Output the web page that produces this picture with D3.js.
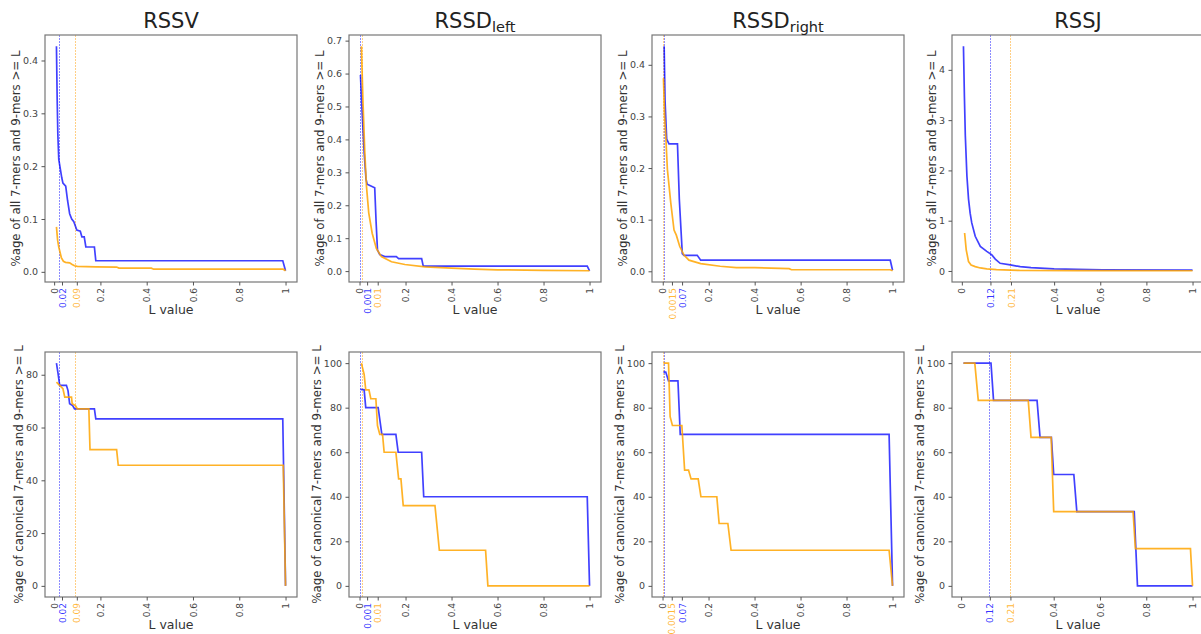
<!DOCTYPE html>
<html>
<head>
<meta charset="utf-8">
<script src="https://cdn.jsdelivr.net/npm/d3@7"></script>
<style>
  body { margin: 0; background: #fff; }
  text { font-family: "DejaVu Sans", sans-serif; }
</style>
</head>
<body>
<svg id="chart" width="1201" height="634"></svg>
<script>
// ---- data: [L value, %age] ----
// top row: %age of all 7-mers and 9-mers >= L
const rssvAllBlue = [[0.01,0.427],[0.013,0.33],[0.016,0.26],[0.02,0.213],[0.027,0.194],[0.033,0.178],[0.038,0.168],[0.05,0.162],[0.058,0.135],[0.067,0.11],[0.076,0.1],[0.085,0.095],[0.098,0.079],[0.113,0.077],[0.12,0.066],[0.13,0.066],[0.137,0.047],[0.174,0.047],[0.18,0.021],[0.988,0.021],[1,0.002]];
const rssvAllOrange = [[0.01,0.085],[0.015,0.06],[0.02,0.047],[0.031,0.027],[0.04,0.02],[0.049,0.018],[0.067,0.017],[0.078,0.014],[0.088,0.0115],[0.1,0.0102],[0.18,0.0095],[0.27,0.009],[0.28,0.007],[0.42,0.007],[0.43,0.005],[0.99,0.005],[1,0.002]];
const rssdLeftAllBlue = [[0.004,0.596],[0.01,0.5],[0.02,0.36],[0.028,0.28],[0.033,0.264],[0.045,0.26],[0.066,0.253],[0.072,0.15],[0.078,0.064],[0.088,0.05],[0.11,0.044],[0.16,0.044],[0.17,0.038],[0.27,0.038],[0.277,0.015],[0.99,0.015],[1,0.001]];
const rssdLeftAllOrange = [[0.008,0.683],[0.015,0.514],[0.023,0.36],[0.03,0.259],[0.04,0.177],[0.055,0.115],[0.073,0.069],[0.095,0.044],[0.139,0.0285],[0.197,0.02],[0.285,0.013],[0.4,0.009],[0.5,0.006],[0.6,0.004],[0.8,0.002],[1,0.001]];
const rssdRightAllBlue = [[0.006,0.436],[0.01,0.33],[0.017,0.256],[0.027,0.247],[0.064,0.247],[0.072,0.14],[0.085,0.034],[0.092,0.031],[0.15,0.031],[0.165,0.0215],[0.99,0.0215],[1,0.002]];
const rssdRightAllOrange = [[0.003,0.374],[0.008,0.3],[0.013,0.263],[0.02,0.198],[0.035,0.132],[0.049,0.08],[0.059,0.07],[0.074,0.048],[0.093,0.031],[0.114,0.0215],[0.165,0.015],[0.25,0.0098],[0.32,0.007],[0.4,0.007],[0.55,0.005],[0.56,0.003],[0.99,0.003],[1,0.001]];
const rssjAllBlue = [[0.007,4.47],[0.011,3.5],[0.015,2.7],[0.022,1.89],[0.029,1.43],[0.036,1.15],[0.043,0.956],[0.058,0.69],[0.08,0.49],[0.108,0.39],[0.13,0.32],[0.145,0.235],[0.166,0.153],[0.21,0.12],[0.253,0.086],[0.3,0.065],[0.4,0.04],[0.5,0.03],[0.61,0.02],[1,0.018]];
const rssjAllOrange = [[0.012,0.755],[0.019,0.42],[0.029,0.187],[0.04,0.12],[0.058,0.086],[0.08,0.06],[0.108,0.04],[0.15,0.025],[0.25,0.01],[0.5,0.006],[1,0.004]];

// bottom row: %age of canonical 7-mers and 9-mers >= L
const rssvCanBlue = [[0.01,84.4],[0.017,80.4],[0.024,76],[0.053,76],[0.06,74],[0.067,69],[0.08,68.3],[0.088,67.1],[0.174,67.1],[0.18,63.3],[0.988,63.3],[1,0]];
const rssvCanOrange = [[0.01,77.2],[0.024,76],[0.038,74.7],[0.046,71.5],[0.075,71.5],[0.078,69],[0.092,68.3],[0.1,67.1],[0.15,67.1],[0.155,51.6],[0.27,51.6],[0.277,45.7],[0.99,45.7],[1,0]];
const rssdLeftCanBlue = [[0.004,88.2],[0.02,88],[0.027,80],[0.081,80],[0.085,77],[0.097,68],[0.158,68],[0.168,60],[0.27,60],[0.279,40],[0.99,40],[1,0]];
const rssdLeftCanOrange = [[0.008,100],[0.02,95],[0.027,88],[0.041,88],[0.049,84],[0.071,84],[0.078,72],[0.088,68],[0.1,68],[0.107,60],[0.158,60],[0.17,48],[0.18,48],[0.19,36],[0.328,36],[0.347,16],[0.548,16],[0.558,0],[1,0]];
const rssdRightCanBlue = [[0.004,96],[0.014,96],[0.026,92],[0.067,92],[0.077,68],[0.985,68],[1,0]];
const rssdRightCanOrange = [[0.004,100],[0.026,100],[0.033,76],[0.043,72],[0.084,72],[0.096,52],[0.113,52],[0.124,48],[0.155,48],[0.167,40],[0.236,40],[0.246,28],[0.284,28],[0.298,16],[0.985,16],[1,0]];
const rssjCanBlue = [[0.01,100],[0.129,100],[0.14,83.3],[0.328,83.3],[0.341,66.7],[0.39,66.7],[0.4,50],[0.487,50],[0.5,33.3],[0.748,33.3],[0.762,0],[1,0]];
const rssjCanOrange = [[0.01,100],[0.059,100],[0.074,83.3],[0.29,83.3],[0.302,66.7],[0.389,66.7],[0.4,33.3],[0.743,33.3],[0.753,16.7],[0.991,16.7],[1,0]];

// cut-off lines [blue, orange]
const rssvCutoffs = [0.02, 0.09];
const rssdLeftCutoffs = [0.001, 0.01];
const rssdRightCutoffs = [0.007, 0.0015];
const rssjCutoffs = [0.12, 0.21];

// x ticks (positions + labels, as set on the axes)
const rssvTicks = [0, 0.034, 0.098, 0.2, 0.4, 0.6, 0.8, 1];
const rssvTickLabels = ["0", "0.02", "0.09", "0.2", "0.4", "0.6", "0.8", "1"];
const rssdLeftTicks = [0, 0.033, 0.079, 0.2, 0.4, 0.6, 0.8, 1];
const rssdLeftTickLabels = ["0", "0.001", "0.01", "0.2", "0.4", "0.6", "0.8", "1"];
const rssdRightTicks = [0, 0.04, 0.084, 0.2, 0.4, 0.6, 0.8, 1];
const rssdRightTickLabels = ["0", "0.0015", "0.07", "0.2", "0.4", "0.6", "0.8", "1"];
const rssjTicks = [0, 0.124, 0.213, 0.4, 0.6, 0.8, 1];
const rssjTickLabels = ["0", "0.12", "0.21", "0.4", "0.6", "0.8", "1"];

// y ticks
const rssvAllYTicks = [0, 0.1, 0.2, 0.3, 0.4];
const rssdLeftAllYTicks = [0, 0.1, 0.2, 0.3, 0.4, 0.5, 0.6, 0.7];
const rssdRightAllYTicks = [0, 0.1, 0.2, 0.3, 0.4];
const rssjAllYTicks = [0, 1, 2, 3, 4];
const rssvCanYTicks = [0, 20, 40, 60, 80];
const canYTicks = [0, 20, 40, 60, 80, 100];

const titles = [["RSSV", ""], ["RSSD", "left"], ["RSSD", "right"], ["RSSJ", ""]];
const yLabelAll = "%age of all 7-mers and 9-mers >= L";
const yLabelCan = "%age of canonical 7-mers and 9-mers >= L";

const BLUE = "#0000ff", ORANGE = "#ffa500";

// the 8 panels
const panels = [
  {row: 0, col: 0, blue: rssvAllBlue, orange: rssvAllOrange, cut: rssvCutoffs, ticks: rssvTicks, labels: rssvTickLabels, tickCol: [BLUE, ORANGE], yTicks: rssvAllYTicks, fmt: d3.format(".1f")},
  {row: 0, col: 1, blue: rssdLeftAllBlue, orange: rssdLeftAllOrange, cut: rssdLeftCutoffs, ticks: rssdLeftTicks, labels: rssdLeftTickLabels, tickCol: [BLUE, ORANGE], yTicks: rssdLeftAllYTicks, fmt: d3.format(".1f")},
  {row: 0, col: 2, blue: rssdRightAllBlue, orange: rssdRightAllOrange, cut: rssdRightCutoffs, ticks: rssdRightTicks, labels: rssdRightTickLabels, tickCol: [ORANGE, BLUE], yTicks: rssdRightAllYTicks, fmt: d3.format(".1f")},
  {row: 0, col: 3, blue: rssjAllBlue, orange: rssjAllOrange, cut: rssjCutoffs, ticks: rssjTicks, labels: rssjTickLabels, tickCol: [BLUE, ORANGE], yTicks: rssjAllYTicks, fmt: d3.format("d")},
  {row: 1, col: 0, blue: rssvCanBlue, orange: rssvCanOrange, cut: rssvCutoffs, ticks: rssvTicks, labels: rssvTickLabels, tickCol: [BLUE, ORANGE], yTicks: rssvCanYTicks, fmt: d3.format("d")},
  {row: 1, col: 1, blue: rssdLeftCanBlue, orange: rssdLeftCanOrange, cut: rssdLeftCutoffs, ticks: rssdLeftTicks, labels: rssdLeftTickLabels, tickCol: [BLUE, ORANGE], yTicks: canYTicks, fmt: d3.format("d")},
  {row: 1, col: 2, blue: rssdRightCanBlue, orange: rssdRightCanOrange, cut: rssdRightCutoffs, ticks: rssdRightTicks, labels: rssdRightTickLabels, tickCol: [ORANGE, BLUE], yTicks: canYTicks, fmt: d3.format("d")},
  {row: 1, col: 3, blue: rssjCanBlue, orange: rssjCanOrange, cut: rssjCutoffs, ticks: rssjTicks, labels: rssjTickLabels, tickCol: [BLUE, ORANGE], yTicks: canYTicks, fmt: d3.format("d")}
];

// layout
const svg = d3.select("#chart");
const colLeft = [45, 349, 652, 952];
const boxW = 252;
const rowTop = [35, 352], boxH = [247, 245];

// matplotlib-like 5% margins
function padded(ext) {
  const r = ext[1] - ext[0];
  return [ext[0] - 0.05 * r, ext[1] + 0.05 * r];
}

panels.forEach(function (p) {
  const left = colLeft[p.col], top = rowTop[p.row], h = boxH[p.row];
  const all = p.blue.concat(p.orange);

  const x = d3.scaleLinear()
    .domain(padded(d3.extent(all, d => d[0])))
    .range([left, left + boxW]);
  const y = d3.scaleLinear()
    .domain(padded(d3.extent(all, d => d[1])))
    .range([top + h, top]);

  const g = svg.append("g");

  // cutoff lines (dotted, faint)
  g.selectAll("line.cut")
    .data(p.cut)
    .join("line")
    .attr("class", "cut")
    .attr("x1", d => Math.round(x(d)) + 0.5).attr("x2", d => Math.round(x(d)) + 0.5)
    .attr("y1", top).attr("y2", top + h)
    .attr("stroke", (d, i) => i === 0 ? "#8c8cff" : "#ffcf85")
    .attr("stroke-width", 1)
    .attr("stroke-dasharray", "2,1");

  const line = d3.line().x(d => x(d[0])).y(d => y(d[1]));

  g.append("path").datum(p.blue)
    .attr("d", line).attr("fill", "none")
    .attr("stroke", BLUE).attr("stroke-width", 1.7).attr("opacity", 0.75);
  g.append("path").datum(p.orange)
    .attr("d", line).attr("fill", "none")
    .attr("stroke", ORANGE).attr("stroke-width", 1.7).attr("opacity", 0.85);

  // frame
  g.append("rect")
    .attr("x", left).attr("y", top).attr("width", boxW).attr("height", h)
    .attr("fill", "none").attr("stroke", "#777").attr("stroke-width", 1.2);

  // x axis
  const xa = g.append("g")
    .attr("transform", `translate(0,${top + h})`)
    .call(d3.axisBottom(x).tickValues(p.ticks).tickFormat((d, i) => p.labels[i]).tickSize(3.5));
  xa.select(".domain").remove();
  xa.selectAll("line").attr("stroke", "#555");
  xa.selectAll("text")
    .attr("transform", "rotate(-90)")
    .attr("text-anchor", "end")
    .attr("x", -6).attr("y", 0).attr("dy", "0.35em")
    .attr("font-size", 9)
    .attr("font-family", "DejaVu Sans, sans-serif")
    .attr("fill", (d, i) => i === 1 ? p.tickCol[0] : i === 2 ? p.tickCol[1] : "#444")
    .attr("fill-opacity", (d, i) => (i === 1 || i === 2) ? 0.8 : 1);

  // y axis
  const ya = g.append("g")
    .attr("transform", `translate(${left},0)`)
    .call(d3.axisLeft(y).tickValues(p.yTicks).tickFormat(p.fmt).tickSize(3.5).tickPadding(3.5));
  ya.select(".domain").remove();
  ya.selectAll("line").attr("stroke", "#555");
  ya.selectAll("text")
    .attr("font-size", 9.5)
    .attr("font-family", "DejaVu Sans, sans-serif")
    .attr("fill", "#444");

  // bbox is in the group's own space, before its translate
  const bb = ya.node().getBBox();

  g.append("text")
    .attr("transform", `translate(${left + bb.x - 3},${top + h / 2}) rotate(-90)`)
    .attr("text-anchor", "middle")
    .attr("font-size", 11.8)
    .attr("fill", "#333")
    .text(p.row === 0 ? yLabelAll : yLabelCan);

  g.append("text")
    .attr("x", left + boxW / 2)
    .attr("y", top + h + 32)
    .attr("text-anchor", "middle")
    .attr("font-size", 12.5)
    .attr("fill", "#333")
    .text("L value");

  if (p.row === 0) {
    const t = g.append("text")
      .attr("x", left + boxW / 2)
      .attr("y", 28)
      .attr("text-anchor", "middle")
      .attr("font-size", 21)
      .attr("fill", "#222");
    t.append("tspan").text(titles[p.col][0]);
    if (titles[p.col][1]) {
      t.append("tspan").attr("font-size", 14.5).attr("dy", 4).text(titles[p.col][1]);
    }
  }
});
</script>
</body>
</html>
